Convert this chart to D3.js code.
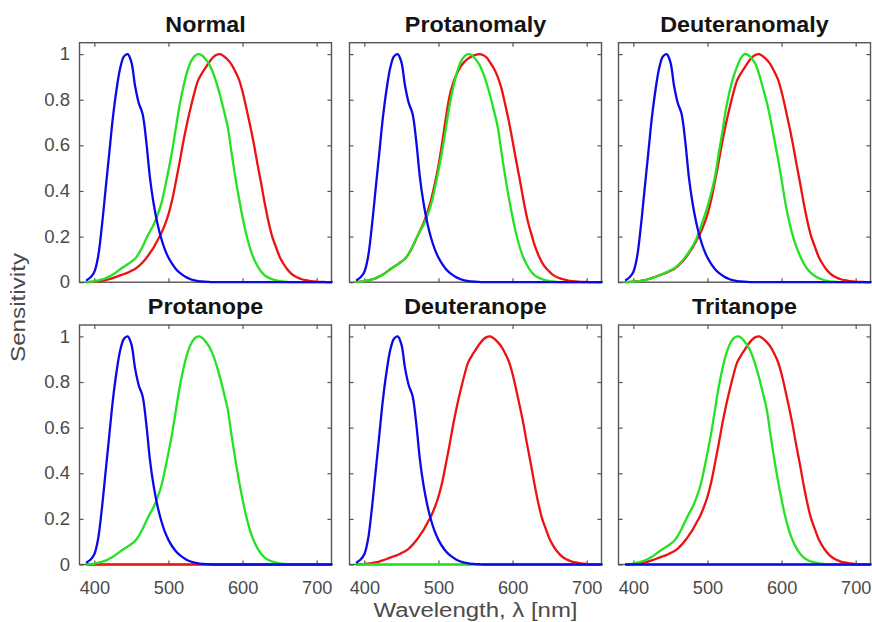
<!DOCTYPE html>
<html>
<head>
<meta charset="utf-8">
<script src="https://cdn.jsdelivr.net/npm/d3@7"></script>
<style>
  body { margin: 0; background: #fff; }
  svg { display: block; }
  text { font-family: "Liberation Sans", Arial, Helvetica, sans-serif; }
</style>
</head>
<body>
<svg id="chart" width="872" height="622"></svg>
<script>
// ---------------- data ----------------
const wavelengths = [390,395,400,405,410,415,420,425,430,435,440,445,450,455,460,465,470,475,480,485,
  490,495,500,505,510,515,520,525,530,535,540,545,550,555,560,565,570,575,580,585,
  590,595,600,605,610,615,620,625,630,635,640,645,650,655,660,665,670,675,680,685,
  690,695,700,705,710,715,720];

// S cone (blue)
const sNormal = [0.01,0.022,0.045,0.11,0.24,0.40,0.56,0.72,0.845,0.94,0.99,1.0,0.965,0.86,0.785,0.74,0.62,0.46,0.345,0.26,
  0.195,0.145,0.108,0.08,0.058,0.042,0.03,0.02,0.013,0.008,0.005,0.003,0.002,0.001,0,0,0,0,0,0,
  0,0,0,0,0,0,0,0,0,0,0,0,0,0,0,0,0,0,0,0,
  0,0,0,0,0,0,0];

// M cone (green)
const mNormal = [0,0.002,0.004,0.008,0.012,0.017,0.025,0.034,0.045,0.057,0.068,0.079,0.09,0.103,0.125,0.155,0.19,0.222,0.252,0.292,
  0.34,0.41,0.49,0.575,0.675,0.775,0.855,0.92,0.965,0.99,1.0,0.995,0.978,0.955,0.92,0.872,0.815,0.75,0.68,0.57,
  0.465,0.37,0.285,0.21,0.15,0.105,0.072,0.047,0.03,0.02,0.013,0.008,0.005,0.003,0.001,0,0,0,0,0,
  0,0,0,0,0,0,0];

// L cone (red)
const lNormal = [0,0.001,0.002,0.004,0.006,0.009,0.013,0.018,0.024,0.03,0.036,0.042,0.05,0.058,0.07,0.086,0.105,0.128,0.152,0.182,
  0.212,0.25,0.297,0.36,0.44,0.525,0.615,0.695,0.765,0.83,0.885,0.915,0.94,0.965,0.985,0.997,1.0,0.99,0.975,0.955,
  0.925,0.89,0.835,0.765,0.69,0.61,0.52,0.435,0.345,0.265,0.2,0.155,0.112,0.082,0.058,0.04,0.027,0.019,0.013,0.009,
  0.006,0.004,0.002,0.001,0.001,0,0];

// anomalous L cone (protanomaly, red)
const lProtanomaly = [0,0.002,0.004,0.008,0.012,0.017,0.025,0.034,0.045,0.057,0.068,0.078,0.09,0.103,0.125,0.155,0.19,0.225,0.26,0.305,
  0.36,0.43,0.51,0.61,0.72,0.815,0.875,0.915,0.945,0.966,0.98,0.99,0.997,1.0,0.996,0.985,0.962,0.936,0.9,0.85,
  0.78,0.705,0.62,0.53,0.445,0.355,0.275,0.215,0.16,0.118,0.085,0.062,0.045,0.031,0.022,0.016,0.011,0.007,0.005,0.003,
  0.002,0.001,0.001,0,0,0,0];

// anomalous M cone (deuteranomaly, green)
const mDeuteranomaly = [0,0.001,0.002,0.004,0.006,0.009,0.013,0.018,0.024,0.03,0.037,0.044,0.052,0.061,0.074,0.09,0.11,0.133,0.158,0.19,
  0.232,0.28,0.33,0.39,0.46,0.56,0.655,0.76,0.838,0.9,0.945,0.982,1.0,0.996,0.98,0.955,0.908,0.85,0.79,0.715,
  0.63,0.545,0.45,0.35,0.27,0.205,0.155,0.115,0.082,0.057,0.04,0.027,0.018,0.012,0.007,0.004,0.002,0.001,0,0,
  0,0,0,0,0,0,0];

// missing cone (flat at zero)
const absentCone = [0,0,0,0,0,0,0,0,0,0,0,0,0,0,0,0,0,0,0,0,
  0,0,0,0,0,0,0,0,0,0,0,0,0,0,0,0,0,0,0,0,
  0,0,0,0,0,0,0,0,0,0,0,0,0,0,0,0,0,0,0,0,
  0,0,0,0,0,0,0];

const panelTitles = ["Normal", "Protanomaly", "Deuteranomaly", "Protanope", "Deuteranope", "Tritanope"];
const panelRed   = [lNormal, lProtanomaly, lNormal, absentCone, lNormal, lNormal];
const panelGreen = [mNormal, mNormal, mDeuteranomaly, mNormal, absentCone, mNormal];
const panelBlue  = [sNormal, sNormal, sNormal, sNormal, sNormal, absentCone];

const xTicks = [400, 500, 600, 700];
const yTicks = [0, 0.2, 0.4, 0.6, 0.8, 1];
const yTickLabels = ["0", "0.2", "0.4", "0.6", "0.8", "1"];
const xDomain = [380, 720];
const yDomain = [0, 1.05];
const xLabel = "Wavelength, \u03bb [nm]";
const yLabel = "Sensitivity";

// ---------------- layout ----------------
const svg = d3.select("#chart");
const colLeft = [79.5, 349.5, 618.5];
const rowTop = [42.7, 325];
const pw = 252, ph = 239.5;
const colors = { red: "#ee1111", green: "#22e222", blue: "#0a0ae8" };
const axisGray = "#555555";
const textGray = "#4a4a4a";

const x = d3.scaleLinear().domain(xDomain).range([0, pw]);
const y = d3.scaleLinear().domain(yDomain).range([ph, 0]);

function stretch(sel, factor) {
  sel.each(function () {
    const len = this.getComputedTextLength();
    d3.select(this).attr("textLength", len * factor).attr("lengthAdjust", "spacingAndGlyphs");
  });
}

panelTitles.forEach((title, i) => {
  const col = i % 3, row = Math.floor(i / 3);
  const g = svg.append("g").attr("transform", `translate(${colLeft[col]},${rowTop[row]})`);

  g.append("clipPath").attr("id", "clip" + i)
    .append("rect").attr("x", -2).attr("y", -2).attr("width", pw + 4).attr("height", ph + 4);

  // box
  g.append("rect").attr("width", pw).attr("height", ph)
    .attr("fill", "none").attr("stroke", axisGray).attr("stroke-width", 1.4);

  // axes (ticks inside on all four sides)
  const bottom = g.append("g").attr("transform", `translate(0,${ph})`)
    .call(d3.axisBottom(x).tickValues(xTicks).tickSizeInner(-4).tickSizeOuter(0).tickPadding(17)
      .tickFormat(row === 1 ? d3.format("d") : () => ""));
  const top = g.append("g")
    .call(d3.axisTop(x).tickValues(xTicks).tickSizeInner(-4).tickSizeOuter(0).tickFormat(() => ""));
  const left = g.append("g")
    .call(d3.axisLeft(y).tickValues(yTicks).tickSizeInner(-4).tickSizeOuter(0).tickPadding(9.5)
      .tickFormat((d, k) => col === 0 ? yTickLabels[k] : ""));
  const right = g.append("g").attr("transform", `translate(${pw},0)`)
    .call(d3.axisRight(y).tickValues(yTicks).tickSizeInner(-4).tickSizeOuter(0).tickFormat(() => ""));

  [bottom, top, left, right].forEach(a => {
    a.select(".domain").remove();
    a.selectAll(".tick line").attr("stroke", axisGray).attr("stroke-width", 1.2);
    a.selectAll(".tick text").attr("fill", textGray)
      .style("font-size", "17.5px").style("font-family", '"Liberation Sans", Arial, sans-serif');
  });
  stretch(bottom.selectAll(".tick text"), 1.04);
  stretch(left.selectAll(".tick text"), 1.06);

  // curves
  const line = d3.line()
    .x((d, k) => x(wavelengths[k]))
    .y(d => y(d))
    .curve(d3.curveCatmullRom.alpha(0.5));

  const series = [
    { values: panelRed[i], color: colors.red },
    { values: panelGreen[i], color: colors.green },
    { values: panelBlue[i], color: colors.blue }
  ];
  g.append("g").attr("clip-path", `url(#clip${i})`)
    .selectAll("path").data(series).join("path")
    .attr("d", s => line(s.values))
    .attr("fill", "none")
    .attr("stroke", s => s.color)
    .attr("stroke-width", 2.3)
    .attr("stroke-linejoin", "round")
    .attr("stroke-linecap", "round");

  // title
  const t = svg.append("text")
    .attr("x", colLeft[col] + pw / 2)
    .attr("y", rowTop[row] - 10.7)
    .attr("text-anchor", "middle")
    .attr("fill", "#141414")
    .style("font-size", "22px")
    .style("font-weight", "bold")
    .text(title);
  stretch(t, 1.06);
});

// axis labels
svg.append("text")
  .attr("x", colLeft[1] + pw / 2)
  .attr("y", 617)
  .attr("text-anchor", "middle")
  .attr("fill", textGray)
  .attr("textLength", 204).attr("lengthAdjust", "spacingAndGlyphs")
  .style("font-size", "20px")
  .text(xLabel);

svg.append("text")
  .attr("transform", "translate(25,307.5) rotate(-90)")
  .attr("text-anchor", "middle")
  .attr("fill", textGray)
  .attr("textLength", 109).attr("lengthAdjust", "spacingAndGlyphs")
  .style("font-size", "20px")
  .text(yLabel);
</script>
</body>
</html>
